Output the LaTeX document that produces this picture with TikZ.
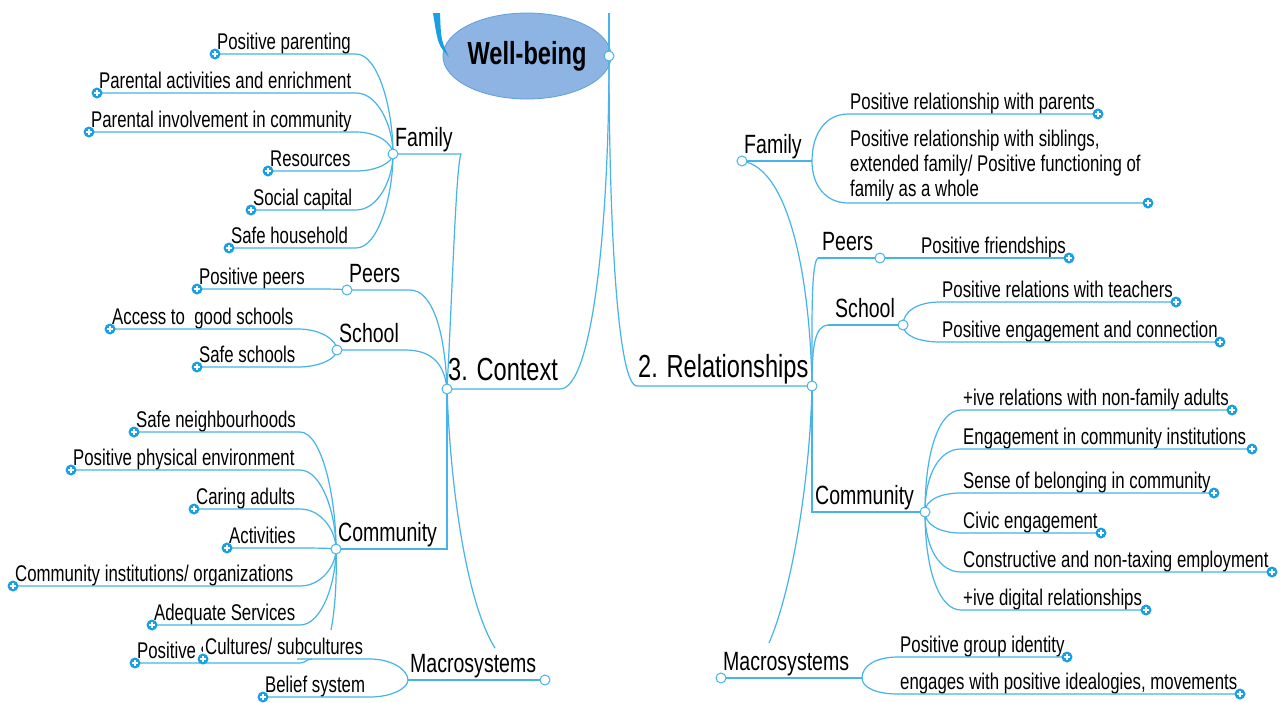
\documentclass[tikz,border=0pt]{standalone}
\usepackage{fontspec}
\setmainfont{Liberation Sans}[FakeStretch=0.74]
\usetikzlibrary{calc,shapes.geometric}
\definecolor{lineblue}{RGB}{70,180,232}
\definecolor{plusblue}{RGB}{25,160,226}
\definecolor{ellfill}{RGB}{141,180,226}
\definecolor{ellline}{RGB}{90,160,225}
\newcommand\leaffont{\fontsize{22.7pt}{26pt}\selectfont}
\newcommand\subfont{\fontsize{26.4pt}{30pt}\selectfont}
\newcommand\hubfont{\fontsize{31.9pt}{36pt}\selectfont}

\tikzset{
  conn/.style={draw=lineblue, line width=1.2pt},
  knob/.style={circle, draw=lineblue, fill=white, line width=1pt, minimum size=10pt, inner sep=0pt},
  plusmark/.style={circle, fill=plusblue, minimum size=11pt, inner sep=0pt,
    path picture={\draw[white, line width=1.6pt]
      ([xshift=-3.2pt]path picture bounding box.center) -- ([xshift=3.2pt]path picture bounding box.center)
      ([yshift=-3.2pt]path picture bounding box.center) -- ([yshift=3.2pt]path picture bounding box.center);}},
  leaftext/.style={font=\leaffont, inner xsep=2pt, inner ysep=1.3pt, text height=16.5pt, text depth=3.2pt},
  subtext/.style={font=\subfont, inner xsep=2pt, inner ysep=1.5pt, text height=19pt, text depth=5.5pt},
  hubtext/.style={font=\hubfont, inner xsep=1pt, inner ysep=1.5pt, text height=23pt, text depth=7pt},
}

% leaf on the left: name, plus x, underline y, underline end x, parent point, text
\newcommand\lleaf[6]{%
  \node[leaftext, anchor=south west] (#1) at (#2,#3) {#6};
  \coordinate (#1-e) at (#4,#3);
  \draw[conn] (#1.south west) -- (#1-e)
    .. controls ($(#1-e)!0.6!(#5|-#1-e)$) and ($(#5)!0.45!(#5|-#1-e)$) .. (#5);
  \node[plusmark] (#1-p) at (#1.south west) {};
}
% leaf on the right: name, text x, underline y, plus x, branch point, text
\newcommand\rleaf[6]{%
  \node[leaftext, anchor=south west] (#1) at (#2,#3) {#6};
  \coordinate (#1-p0) at (#4,#3);
  \draw[conn] (#5) .. controls ($(#5)!0.6!(#5|-#1.south west)$) and ($(#1.south west)!0.6!(#5|-#1.south west)$) .. (#1.south west) -- (#1-p0);
  \node[plusmark] (#1-p) at (#1-p0) {};
}

\begin{document}
\begin{tikzpicture}[x=1pt,y=-1pt]
\fill[white] (0,0) rectangle (1283,702);
\useasboundingbox (0,0) rectangle (1283,702);

% hub points
\coordinate (wb) at (609,56);
\coordinate (wbtop) at (609,13);
\coordinate (ctx) at (447,389);
\coordinate (ctxend) at (560,389);
\coordinate (rk) at (812,386);
\coordinate (relstart) at (637,386);

% left branch points
\coordinate (fl) at (393,154);
\coordinate (flend) at (461,154);
\coordinate (pl) at (347,290);
\coordinate (plend) at (410,290);
\coordinate (sl) at (337,350);
\coordinate (slend) at (405,350);
\coordinate (cl) at (336,549);
\coordinate (mlk) at (545,680);
\coordinate (mls) at (408,680);
\coordinate (mdang) at (495,648);
\coordinate (cldang) at (331,630);

% right branch points
\coordinate (fr) at (742,161);
\coordinate (frb) at (812,161);
\coordinate (prs) at (818,258);
\coordinate (prk) at (880,258);
\coordinate (srs) at (828,325);
\coordinate (srk) at (903,325);
\coordinate (crk) at (925,512);
\coordinate (mrk) at (721,678);
\coordinate (mrb) at (862,678);
\coordinate (rdang) at (769,643);

% central topic
\node[ellipse, fill=ellfill, draw=ellline, line width=0.8pt, minimum width=164pt, minimum height=86pt,
      inner sep=0pt, font=\hubfont\bfseries] (wbn) at (527,56) {Well-being};
\fill[plusblue] (433,13) -- (440,13) .. controls (441,40) .. (449,57) .. controls (438,45) .. (433,13) -- cycle;

% main connectors
\draw[conn] (wb) -- (wbtop);
\draw[conn] (ctx) -- (ctxend) .. controls (592,389) and (609,230) .. (wb);
\draw[conn] (rk) -- (relstart) .. controls (618,386) and (609,230) .. (wb);

% left second level
\draw[conn] (fl) -- (flend) .. controls (456,165) and (452,300) .. (ctx);
\draw[conn] (pl) -- (plend) .. controls (432,290) and (445,330) .. (ctx);
\draw[conn] (sl) -- (slend) .. controls (428,350) and (444,360) .. (ctx);
\draw[conn] (cl) -- (ctx|-cl) -- (ctx);
\draw[conn] (mls) -- (mlk);
\draw[conn] (ctx) .. controls (450,480) and (465,600) .. (mdang);
\draw[conn] (cl) .. controls (337,580) and (335,610) .. (cldang);

% right second level
\draw[conn] (fr) -- (frb);
\draw[conn] (fr) .. controls (790,168) and (810,280) .. (rk);
\draw[conn] (prs) -- (prk);
\draw[conn] (prs) .. controls (811,262) and (812,320) .. (rk);
\draw[conn] (srs) -- (srk);
\draw[conn] (srs) .. controls (815,326) and (812,345) .. (rk);
\draw[conn] (rk) -- (rk|-crk) -- (crk);
\draw[conn] (mrk) -- (mrb);
\draw[conn] (rk) .. controls (810,480) and (792,590) .. (rdang);

% labels
\node[hubtext, anchor=south west] (ctxl) at (ctx) {3. Context};
\node[hubtext, anchor=south west] (rell) at (relstart) {2. Relationships};
\node[subtext, anchor=south west] (fll) at (fl) {Family};
\node[subtext, anchor=south west] (pll) at (pl) {Peers};
\node[subtext, anchor=south west] (sll) at (sl) {School};
\node[subtext, anchor=south west] (cll) at (cl) {Community};
\node[subtext, anchor=south west] (mll) at (mls) {Macrosystems};
\node[subtext, anchor=south west] (frl) at (fr) {Family};
\node[subtext, anchor=south west] (prl) at ([xshift=2pt]prs) {Peers};
\node[subtext, anchor=south west] (srl) at ([xshift=5pt]srs) {School};
\node[subtext, anchor=south west] (crl) at ([xshift=1pt]rk|-crk) {Community};
\node[subtext, anchor=south west] (mrl) at (mrk) {Macrosystems};

% context: family
\lleaf{pp}{215}{54}{356}{fl}{Positive parenting}
\lleaf{pa}{97}{93}{356}{fl}{Parental activities and enrichment}
\lleaf{pi}{89}{132}{356}{fl}{Parental involvement in community}
\lleaf{rs}{268}{171}{356}{fl}{Resources}
\lleaf{sc}{251}{210}{356}{fl}{Social capital}
\lleaf{sh}{229}{248}{356}{fl}{Safe household}
% context: peers and school
\lleaf{pe}{197}{289}{320}{pl}{Positive peers}
\lleaf{ag}{110}{329}{298}{sl}{Access to\ \ good schools}
\lleaf{ss}{197}{367}{298}{sl}{Safe schools}
% context: community
\lleaf{sn}{134}{432}{300}{cl}{Safe neighbourhoods}
\lleaf{pv}{71}{470}{300}{cl}{Positive physical environment}
\lleaf{ca}{194}{509}{300}{cl}{Caring adults}
\lleaf{ac}{227}{548}{300}{cl}{Activities}
\lleaf{ci}{13}{586}{300}{cl}{Community institutions/ organizations}
\lleaf{as}{152}{625}{300}{cl}{Adequate Services}
% context: macrosystems
\lleaf{bs}{263}{697}{370}{mls}{Belief system}
\node[leaftext, anchor=south west] (ps) at (135,663) {Positive s};
\node[leaftext, anchor=south west, fill=white] (cu) at (203,659) {Cultures/ subcultures};
\coordinate (ps-e) at (300,663);
\coordinate (ps-j) at (312,659);
\coordinate (cu-s) at (297,659);
\coordinate (cu-e) at (370,659);
\draw[conn] (ps.south west) -- (ps-e) .. controls (306,663) and (306,659) .. (ps-j);
\draw[conn] (cu-s) -- (cu-e) .. controls ($(cu-e)!0.6!(mls|-cu-e)$) and ($(mls)!0.45!(mls|-cu-e)$) .. (mls);
\node[plusmark] (ps-p) at (ps.south west) {};
\node[plusmark] (cu-p) at (cu.south west) {};

% relationships: family
\rleaf{rp}{848}{114}{1098}{frb}{Positive relationship with parents}
\node[leaftext, anchor=base west] (ms1) at (848,146) {Positive relationship with siblings,};
\node[leaftext, anchor=base west] (ms2) at (848,171) {extended family/ Positive functioning of};
\node[leaftext, anchor=base west] (ms3) at (848,196) {family as a whole};
\coordinate (ms-s) at (848,203);
\coordinate (ms-p0) at (1148,203);
\draw[conn] (frb) .. controls ($(frb)!0.6!(frb|-ms-s)$) and ($(ms-s)!0.6!(frb|-ms-s)$) .. (ms-s) -- (ms-p0);
\node[plusmark] (ms-p) at (ms-p0) {};
% relationships: peers
\node[leaftext, anchor=south west] (pf) at (919,258) {Positive friendships};
\coordinate (pf-p0) at (1069,258);
\draw[conn] (prk) -- (pf-p0);
\node[plusmark] (pf-p) at (pf-p0) {};
% relationships: school
\rleaf{rt}{940}{302}{1176}{srk}{Positive relations with teachers}
\rleaf{re}{940}{342}{1220}{srk}{Positive engagement and connection}
% relationships: community
\rleaf{ra}{961}{410}{1232}{crk}{+ive relations with non-family adults}
\rleaf{rc}{961}{449}{1252}{crk}{Engagement in community institutions}
\rleaf{rb}{961}{493}{1214}{crk}{Sense of belonging in community}
\rleaf{rv}{961}{533}{1101}{crk}{Civic engagement}
\rleaf{rm}{961}{572}{1272}{crk}{Constructive and non-taxing employment}
\rleaf{rd}{961}{610}{1146}{crk}{+ive digital relationships}
% relationships: macrosystems
\rleaf{pg}{898}{657}{1067}{mrb}{Positive group identity}
\rleaf{ep}{898}{694}{1240}{mrb}{engages with positive idealogies, movements}

% open knobs on top of the connectors
\foreach \k in {wb,ctx,rk,fl,pl,sl,cl,mlk,fr,prk,srk,crk,mrk}
  \node[knob] (\k-k) at (\k) {};
\end{tikzpicture}
\end{document}
